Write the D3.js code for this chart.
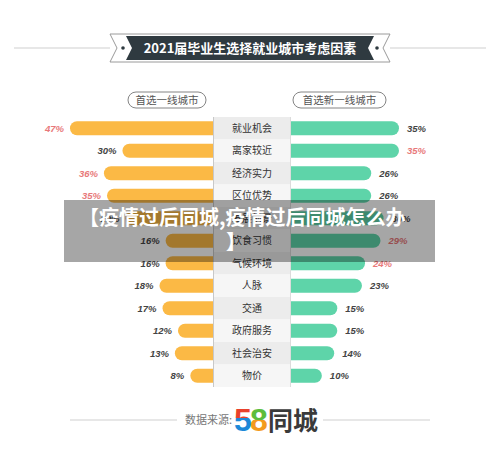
<!DOCTYPE html>
<html><head><meta charset="utf-8">
<script src="https://cdn.jsdelivr.net/npm/d3@7"></script>
<style>body{margin:0;background:#fff}svg{display:block}</style>
</head><body>
<script>
const categories = ["就业机会","离家较近","经济实力","区位优势","发展前景","饮食习惯","气候环境","人脉","交通","政府服务","社会治安","物价"];
const firstTier = [47,30,36,35,29,16,16,18,17,12,13,8];
const newFirstTier = [35,35,26,26,30,29,24,23,15,15,14,10];
const firstHighlight = [true,false,true,true,false,false,false,false,false,false,false,false];
const newHighlight = [false,true,false,false,false,true,true,false,false,false,false,false];
const title = "2021届毕业生选择就业城市考虑因素";
const leftHeader = "首选一线城市";
const rightHeader = "首选新一线城市";
const overlayLines = ["【疫情过后同城,疫情过后同城怎么办","】"];

const W=500,H=462;
const svg=d3.select("body").append("svg").attr("width",W).attr("height",H);
const font="'Noto Sans CJK SC','Noto Sans',sans-serif";
const numFont="'Liberation Sans',Arial,sans-serif";

// title decoration
svg.append("line").attr("x1",14).attr("x2",110).attr("y1",48).attr("y2",48).attr("stroke","#cfcfcf");
svg.append("line").attr("x1",390).attr("x2",486).attr("y1",48).attr("y2",48).attr("stroke","#cfcfcf");
svg.append("path").attr("d","M110,34L390,34L383,48L390,62L110,62L117,48Z").attr("fill","#fff").attr("stroke","#9a9a9a").attr("stroke-width",1);
svg.append("path").attr("d","M126,36L374,36L368,48L374,60L126,60L132,48Z").attr("fill","#2f3a40");
svg.append("circle").attr("cx",123).attr("cy",48).attr("r",1.8).attr("fill","#2f3a40");
svg.append("circle").attr("cx",377).attr("cy",48).attr("r",1.8).attr("fill","#2f3a40");
svg.append("text").attr("x",250).attr("y",48).attr("dy","0.35em").attr("text-anchor","middle")
  .attr("fill","#fff").attr("font-family",font).attr("font-weight","bold").attr("font-size",13).text(title);

// headers
function pill(cx,w,label){
  svg.append("rect").attr("x",cx-w/2).attr("y",92).attr("width",w).attr("height",16).attr("rx",8)
    .attr("fill","#fff").attr("stroke","#777").attr("stroke-width",0.9);
  svg.append("text").attr("x",cx).attr("y",100).attr("dy","0.35em").attr("text-anchor","middle")
    .attr("fill","#555").attr("font-family",font).attr("font-size",10.5).text(label);
}
pill(167,78,leftHeader);
pill(339.5,93,rightHeader);

const colL=213,colR=291;
const y=d3.scaleBand().domain(categories).range([117,387]);
const x=d3.scaleLinear().domain([0,47]).range([0,145]);
const bh=14;

// left bars
svg.selectAll(".lb").data(categories).join("rect")
  .attr("x",(d,i)=>colL+2-x(firstTier[i])).attr("y",d=>y(d)+y.bandwidth()/2-bh/2)
  .attr("width",(d,i)=>x(firstTier[i])+10).attr("height",bh).attr("rx",bh/2).attr("fill","#fbb945");
// right bars
svg.selectAll(".rb").data(categories).join("rect")
  .attr("x",colR-10).attr("y",d=>y(d)+y.bandwidth()/2-bh/2)
  .attr("width",(d,i)=>x(newFirstTier[i])+10).attr("height",bh).attr("rx",bh/2).attr("fill","#5ed4a9");

// column
svg.selectAll(".band").data(categories).join("rect")
  .attr("x",colL).attr("y",d=>y(d)).attr("width",colR-colL).attr("height",y.bandwidth())
  .attr("fill",(d,i)=>i%2===0?"#ececec":"#f6f6f6");
svg.append("line").attr("x1",colL+0.5).attr("x2",colL+0.5).attr("y1",117).attr("y2",387).attr("stroke","#c8c8c8");
svg.append("line").attr("x1",colR-0.5).attr("x2",colR-0.5).attr("y1",117).attr("y2",387).attr("stroke","#dcdcdc");
svg.selectAll(".cl").data(categories).join("text")
  .attr("x",252).attr("y",d=>y(d)+y.bandwidth()/2).attr("dy","0.35em").attr("text-anchor","middle")
  .attr("fill","#333").attr("font-family",font).attr("font-size",10).text(d=>d);

// value labels
svg.selectAll(".lv").data(categories).join("text")
  .attr("x",(d,i)=>colL+2-x(firstTier[i])-6).attr("y",d=>y(d)+y.bandwidth()/2).attr("dy","0.35em")
  .attr("text-anchor","end").attr("font-family",numFont).attr("font-style","italic").attr("font-weight","bold")
  .attr("font-size",9.5).attr("fill",(d,i)=>firstHighlight[i]?"#e8797a":"#444").text((d,i)=>firstTier[i]+"%");
svg.selectAll(".rv").data(categories).join("text")
  .attr("x",(d,i)=>colR+x(newFirstTier[i])+8).attr("y",d=>y(d)+y.bandwidth()/2).attr("dy","0.35em")
  .attr("text-anchor","start").attr("font-family",numFont).attr("font-style","italic").attr("font-weight","bold")
  .attr("font-size",9.5).attr("fill",(d,i)=>newHighlight[i]?"#e8797a":"#444").text((d,i)=>newFirstTier[i]+"%");

// footer
svg.append("line").attr("x1",70).attr("x2",177).attr("y1",420).attr("y2",420).attr("stroke","#cfcfcf");
svg.append("line").attr("x1",323).attr("x2",430).attr("y1",420).attr("y2",420).attr("stroke","#cfcfcf");
svg.append("text").attr("x",185).attr("y",420).attr("dy","0.35em").attr("fill","#777")
  .attr("font-family",font).attr("font-size",11).text("数据来源:");
const defs=svg.append("defs");
function grad(id,c1,c2,stop){
  const g=defs.append("linearGradient").attr("id",id).attr("x1",0).attr("x2",0).attr("y1",0).attr("y2",1);
  g.append("stop").attr("offset",stop).attr("stop-color",c1);
  g.append("stop").attr("offset",stop).attr("stop-color",c2);
}
grad("g5","#e8412c","#1e88d8","0.45");
grad("g8","#5cbd3a","#f39a1e","0.5");
svg.append("text").attr("x",234).attr("y",431).attr("fill","url(#g5)").attr("font-family",numFont)
  .attr("font-weight","bold").attr("font-size",32).text("5");
svg.append("text").attr("x",250).attr("y",431).attr("fill","url(#g8)").attr("font-family",numFont)
  .attr("font-weight","bold").attr("font-size",32).text("8");
svg.append("text").attr("x",268).attr("y",421).attr("dy","0.35em").attr("fill","#3a3a3a").attr("font-family",font)
  .attr("font-weight","bold").attr("font-size",25).text("同城");

// overlay
svg.append("rect").attr("x",64).attr("y",200).attr("width",371).attr("height",62).attr("fill","rgba(0,0,0,0.35)");
svg.append("text").attr("x",79).attr("y",218).attr("dy","0.35em").attr("fill","#fff").attr("font-family",font)
  .attr("font-weight","bold").attr("font-size",20).text(overlayLines[0]);
svg.append("text").attr("x",226).attr("y",242).attr("dy","0.35em").attr("fill","#fff").attr("font-family",font)
  .attr("font-weight","bold").attr("font-size",20).text(overlayLines[1]);
</script>
</body></html>
